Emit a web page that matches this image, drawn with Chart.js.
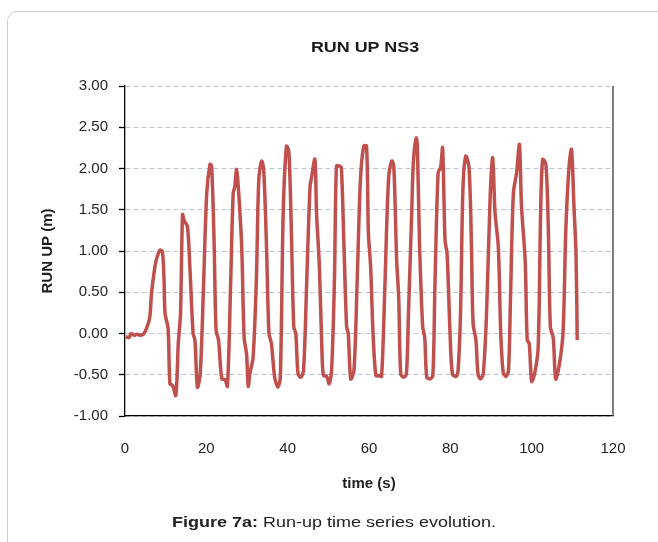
<!DOCTYPE html>
<html>
<head>
<meta charset="utf-8">
<script src="https://cdn.jsdelivr.net/npm/chart.js@4"></script>
<style>
  html, body { margin: 0; padding: 0; background: #fff; }
  #wrap { position: relative; width: 658px; height: 542px; overflow: hidden; }
  #frame { position: absolute; left: 7px; top: 11px; width: 720px; height: 620px;
           border: 1px solid #cfcfcf; border-radius: 10px; box-sizing: border-box; }
  #chart { position: absolute; left: 0; top: 0; }
  .ttl { position: absolute; left: 0; width: 658px; text-align: center;
         font-family: "Liberation Sans", Arial, sans-serif; color: #1a1a1a; white-space: nowrap; }
  #title { top: 39px; font-size: 14px; font-weight: bold; transform: scaleX(1.28); left: 36px; }
  #caption { top: 513px; font-size: 15px; transform: scaleX(1.2); left: 5px; color: #222; }
</style>
</head>
<body>
<div id="wrap">
  <div id="frame"></div>
  <canvas id="chart" width="658" height="542"></canvas>
  <div class="ttl" id="title">RUN UP NS3</div>
  <div class="ttl" id="caption"><b>Figure 7a:</b> Run-up time series evolution.</div>
</div>
<script>
/* Run-up time series, gauge NS3 */

// time (s) and run-up (m)
const timeS = [
  0.2, 1.0, 1.5, 2.2, 3.0, 3.8, 4.5, 5.2, 6.1, 6.5, 7.35, 7.8, 8.6, 9.2, 9.6, 9.85,
  10.6, 11.05, 11.7, 12.5, 13.1, 13.65, 14.15, 14.6, 15.35, 15.95, 16.75, 17.2, 17.8, 18.5, 19.3,
  20.1, 20.9, 21.3, 21.9, 22.4, 23.0, 23.8, 24.6, 25.2, 26.0, 26.6, 27.0, 27.45, 27.9, 28.7,
  29.3, 29.9, 30.3, 30.7, 31.5, 32.3, 32.9, 33.6, 34.1, 34.8, 35.4, 36.0, 36.8, 37.6, 38.2,
  38.9, 39.7, 40.3, 40.9, 41.5, 42.0, 42.55, 43.2, 43.9, 44.7, 45.5, 45.9, 46.7, 47.1, 47.8,
  48.4, 48.8, 49.6, 50.2, 50.8, 51.5, 52.0, 52.7, 53.2, 53.8, 54.5, 54.9, 55.5, 56.3, 57.1,
  57.9, 58.7, 59.4, 59.85, 60.4, 61.0, 61.7, 62.5, 63.1, 63.9, 64.8, 65.6, 66.1, 66.8, 67.3,
  67.8, 68.5, 69.2, 69.7, 70.5, 70.9, 71.6, 71.9, 72.4, 73.2, 73.7, 74.2, 75.0, 75.7, 76.2,
  77.0, 77.6, 78.1, 78.7, 79.2, 79.9, 80.5, 81.4, 81.9, 82.5, 83.1, 83.8, 84.6, 85.2, 85.6,
  86.3, 86.8, 87.4, 88.1, 88.9, 89.8, 90.4, 91.0, 91.8, 92.4, 93.0, 93.7, 94.3, 94.8, 95.5,
  96.3, 97.0, 97.5, 98.4, 98.9, 99.4, 100.0, 100.8, 101.6, 102.2, 102.7, 103.5, 104.1, 104.6,
  105.3, 105.9, 106.7, 107.7, 108.4, 109.2, 109.8, 110.4, 110.9, 111.2
];
const runUp = [
  -0.04, -0.05, 0.0, -0.02, -0.01, -0.02, -0.01, 0.05, 0.2, 0.48, 0.81, 0.91, 1.01, 0.99, 0.65, 0.24,
  0.06, -0.61, -0.63, -0.75, -0.12, 0.24, 1.44, 1.36, 1.30, 0.81, 0.0, -0.08, -0.65, -0.49, 0.56,
  1.70, 2.05, 2.03, 1.13, 0.04, -0.08, -0.55, -0.56, -0.64, 0.65, 1.70, 1.78, 1.99, 1.75, 1.05,
  -0.05, -0.25, -0.64, -0.49, -0.29, 0.65, 1.87, 2.09, 1.99, 1.05, 0.0, -0.12, -0.53, -0.65, -0.53,
  1.46, 2.27, 2.20, 1.26, 0.08, 0.0, -0.49, -0.53, -0.45, 0.65, 1.78, 1.90, 2.11, 1.46, 0.81,
  -0.17, -0.51, -0.52, -0.61, -0.45, 0.65, 2.03, 2.03, 2.01, 1.13, 0.08, 0.0, -0.55, -0.45, 0.65,
  1.87, 2.27, 2.27, 1.22, 0.81, 0.0, -0.51, -0.51, -0.52, 0.56, 1.87, 2.09, 2.03, 0.89, 0.44,
  -0.49, -0.53, -0.49, 0.24, 1.46, 2.07, 2.37, 2.27, 1.13, 0.08, -0.05, -0.53, -0.55, -0.51, 0.56,
  1.95, 2.01, 2.25, 1.13, 0.97, 0.04, -0.49, -0.52, -0.45, 0.24, 1.75, 2.15, 2.01, 1.05, 0.12,
  -0.08, -0.49, -0.55, -0.49, 0.24, 1.67, 2.13, 1.46, 1.05, 0.0, -0.47, -0.52, -0.45, 0.44, 1.70,
  1.95, 2.29, 1.54, 0.89, -0.08, -0.12, -0.58, -0.47, -0.17, 1.46, 2.11, 2.05, 1.26, 0.08,
  -0.05, -0.55, -0.41, 0.0, 1.26, 2.03, 2.23, 1.54, 0.97, -0.08
];

const xTicks = [0, 20, 40, 60, 80, 100, 120];
const yTicks = [-1, -0.5, 0, 0.5, 1, 1.5, 2, 2.5, 3];

const FONT = "'Liberation Sans', Arial, sans-serif";
const LINE = "#c0504d";
const GRID = "#bcc4d8";
const INK = "#1f1f1f";

// right edge of the plot box
const plotBox = {
  id: "plotBox",
  afterDatasetsDraw(chart) {
    const { ctx, chartArea: a } = chart;
    ctx.save();
    ctx.strokeStyle = "#555";
    ctx.lineWidth = 1.5;
    ctx.beginPath();
    ctx.moveTo(a.right, a.top);
    ctx.lineTo(a.right, a.bottom);
    ctx.stroke();
    ctx.restore();
  },
};

const points = timeS.map((t, i) => ({ x: t, y: runUp[i] }));

new Chart(document.getElementById("chart"), {
  type: "line",
  data: {
    datasets: [{
      label: "Run up NS3",
      data: points,
      borderColor: LINE,
      borderWidth: 3.5,
      pointRadius: 0,
      tension: 0.3,
      fill: false,
    }],
  },
  options: {
    responsive: false,
    animation: false,
    layout: { padding: { top: 86, left: 20, right: 45, bottom: 27 } },
    plugins: { legend: { display: false }, tooltip: { enabled: false } },
    scales: {
      x: {
        type: "linear",
        min: 0, max: 120,
        afterBuildTicks: s => { s.ticks = xTicks.map(v => ({ value: v })); },
        afterFit: s => { s.height = 99; },
        grid: { display: false },
        border: { display: true, color: "#000", width: 1.3 },
        ticks: { font: { family: FONT, size: 15 }, color: INK, padding: 16 },
        title: {
          display: true, text: "time (s)", color: INK,
          font: { family: FONT, size: 15, weight: "bold" },
          padding: { top: 0, bottom: 22 },
        },
      },
      y: {
        min: -1, max: 3,
        afterBuildTicks: s => { s.ticks = yTicks.map(v => ({ value: v })); },
        afterFit: s => { s.width = 105; },
        grid: {
          color: GRID, lineWidth: 1,
          tickColor: "#000", tickLength: 6, tickWidth: 1.3, tickBorderDash: [],
        },
        border: { display: true, color: "#000", width: 1.3, dash: [5, 3] },
        ticks: {
          font: { family: FONT, size: 15 }, color: INK, padding: 11,
          callback: v => Number(v).toFixed(2),
        },
        title: {
          display: true, text: "RUN UP (m)", color: INK,
          font: { family: FONT, size: 15, weight: "bold" },
          padding: { top: 19, bottom: 0 },
        },
      },
    },
  },
  plugins: [plotBox],
});
</script>
</body>
</html>
